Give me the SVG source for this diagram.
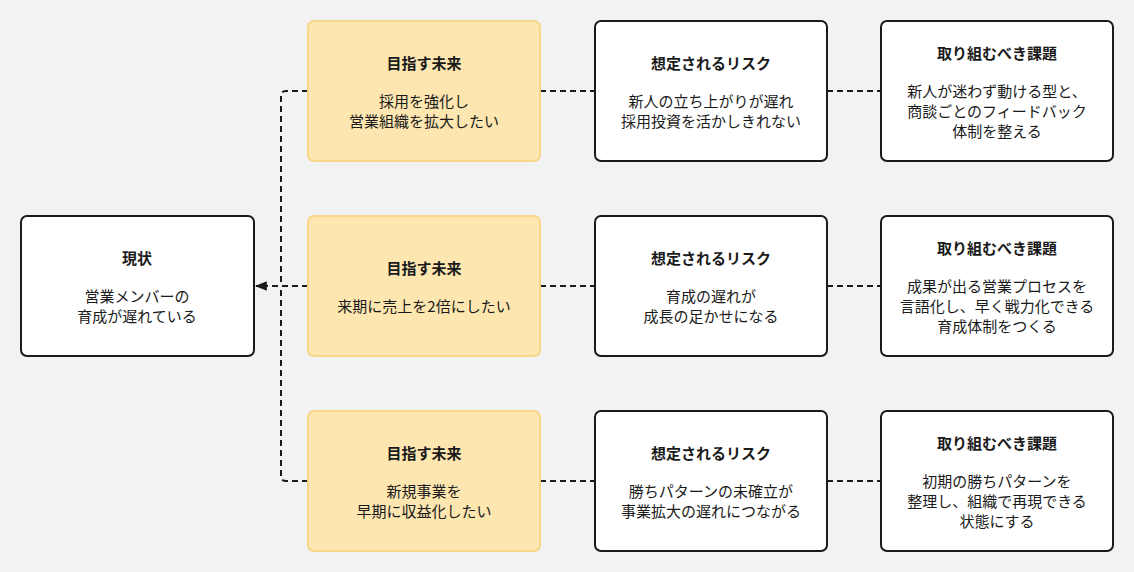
<svg xmlns="http://www.w3.org/2000/svg" width="1134" height="572" viewBox="0 0 1134 572">
<style>
text{font-family:"Noto Sans CJK JP","Noto Sans",sans-serif;fill:#1a1a1a;text-anchor:middle;font-size:15px}
.t{font-weight:bold}
.w{fill:#fff;stroke:#1a1a1a;stroke-width:2}
.o{fill:#fde6b0;stroke:#f7d68a;stroke-width:2}
.c{fill:none;stroke:#1a1a1a;stroke-width:2;stroke-dasharray:6 4}
</style>
<defs><marker id="a" viewBox="0 0 10 10" refX="9" refY="5" markerWidth="6" markerHeight="6" orient="auto"><path d="M0,1 L10,5 L0,9 z" fill="#1a1a1a"/></marker></defs>
<rect width="1134" height="572" fill="#f2f2f2"/>
<g id="connectors">
<path class="c" d="M308,91 H286 Q281,91 281,96 V286"/>
<path class="c" d="M308,481 H286 Q281,481 281,476 V286"/>
<path class="c" d="M308,286 H256" marker-end="url(#a)"/>
<path class="c" d="M540,91 H595 M827,91 H881 M540,286 H595 M827,286 H881 M540,481 H595 M827,481 H881"/>
</g>
<g id="current"><rect class="w" x="21" y="216" width="233" height="140" rx="6"/><text class="t" x="137" y="264">現状</text><text x="137" y="302">営業メンバーの</text><text x="137" y="322">育成が遅れている</text></g>
<g id="future1"><rect class="o" x="308" y="21" width="232" height="140" rx="6"/><text class="t" x="424" y="69">目指す未来</text><text x="424" y="107">採用を強化し</text><text x="424" y="127">営業組織を拡大したい</text></g>
<g id="future2"><rect class="o" x="308" y="216" width="232" height="140" rx="6"/><text class="t" x="424" y="274">目指す未来</text><text x="424" y="312">来期に売上を2倍にしたい</text></g>
<g id="future3"><rect class="o" x="308" y="411" width="232" height="140" rx="6"/><text class="t" x="424" y="459">目指す未来</text><text x="424" y="497">新規事業を</text><text x="424" y="517">早期に収益化したい</text></g>
<g id="risk1"><rect class="w" x="595" y="21" width="232" height="140" rx="6"/><text class="t" x="711" y="69">想定されるリスク</text><text x="711" y="107">新人の立ち上がりが遅れ</text><text x="711" y="127">採用投資を活かしきれない</text></g>
<g id="risk2"><rect class="w" x="595" y="216" width="232" height="140" rx="6"/><text class="t" x="711" y="264">想定されるリスク</text><text x="711" y="302">育成の遅れが</text><text x="711" y="322">成長の足かせになる</text></g>
<g id="risk3"><rect class="w" x="595" y="411" width="232" height="140" rx="6"/><text class="t" x="711" y="459">想定されるリスク</text><text x="711" y="497">勝ちパターンの未確立が</text><text x="711" y="517">事業拡大の遅れにつながる</text></g>
<g id="task1"><rect class="w" x="881" y="21" width="232" height="140" rx="6"/><text class="t" x="997" y="59">取り組むべき課題</text><text x="997" y="97">新人が迷わず動ける型と、</text><text x="997" y="117">商談ごとのフィードバック</text><text x="997" y="137">体制を整える</text></g>
<g id="task2"><rect class="w" x="881" y="216" width="232" height="140" rx="6"/><text class="t" x="997" y="254">取り組むべき課題</text><text x="997" y="292">成果が出る営業プロセスを</text><text x="997" y="312">言語化し、早く戦力化できる</text><text x="997" y="332">育成体制をつくる</text></g>
<g id="task3"><rect class="w" x="881" y="411" width="232" height="140" rx="6"/><text class="t" x="997" y="449">取り組むべき課題</text><text x="997" y="487">初期の勝ちパターンを</text><text x="997" y="507">整理し、組織で再現できる</text><text x="997" y="527">状態にする</text></g>
</svg>
